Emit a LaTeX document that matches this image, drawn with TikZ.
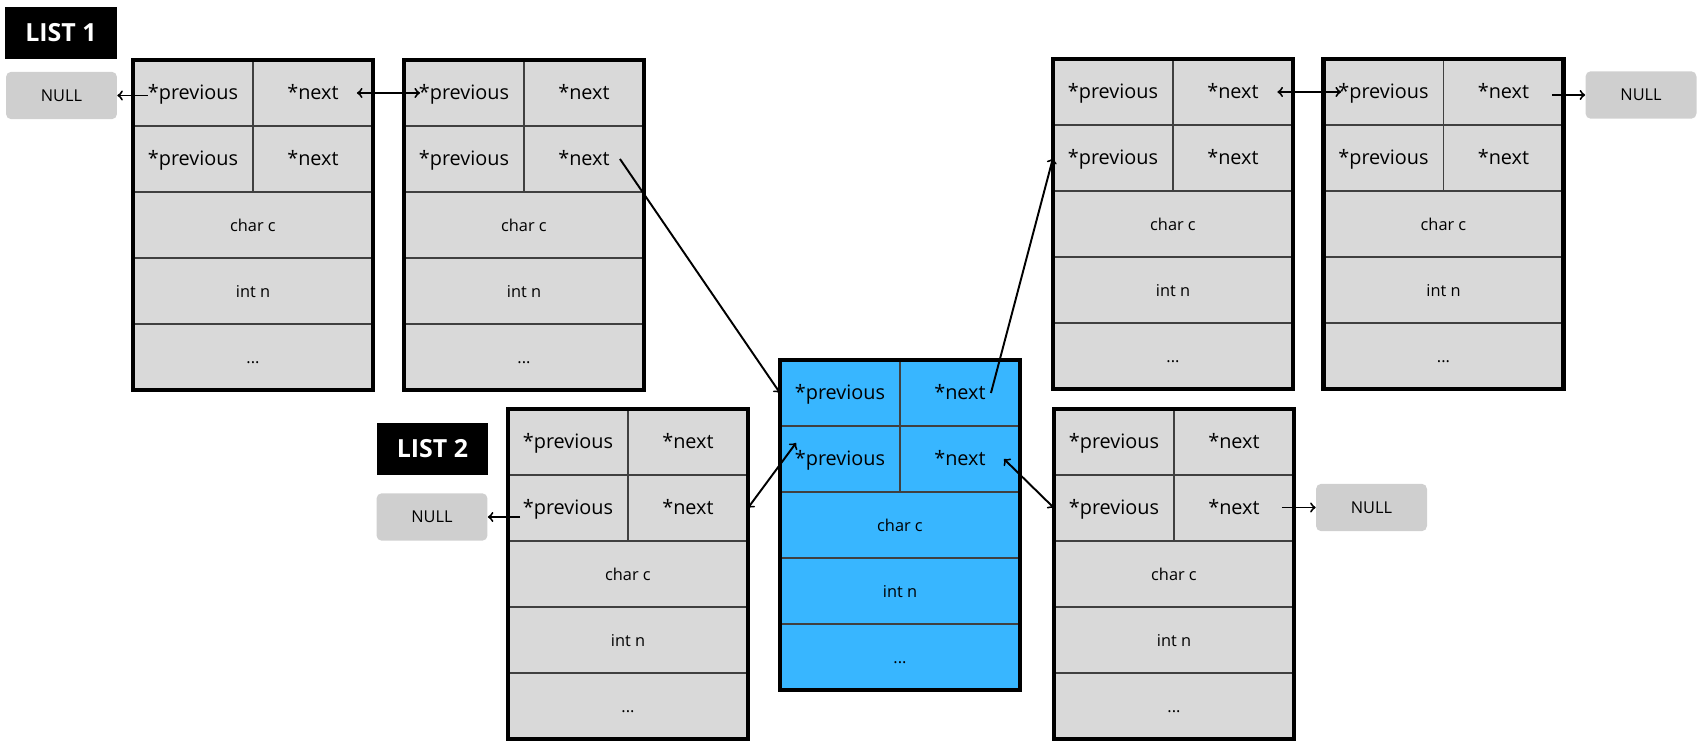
\documentclass[tikz,border=0pt]{standalone}
\usepackage{fontspec}
\setmainfont{Open Sans}
\usepackage{xcolor}
\usetikzlibrary{positioning}

\definecolor{cellgray}{HTML}{D9D9D9}
\definecolor{nullgray}{HTML}{CFCFCF}
\definecolor{nodeblue}{HTML}{38B6FF}
\definecolor{rulegray}{HTML}{404040}

\tikzset{
  half/.style={draw=rulegray, line width=1.1pt, minimum width=2.4cm, minimum height=1.32cm,
    inner sep=0pt, outer sep=0pt, text height=1.9ex, text depth=0.42ex,
    font=\fontsize{11.3}{13}\selectfont},
  full/.style={half, minimum width=4.8cm, font=\fontsize{9.3}{11}\selectfont},
  nullbox/.style={fill=nullgray, rounded corners=3pt, minimum width=2.22cm, minimum height=0.95cm,
    inner sep=0pt, font=\fontsize{9.3}{11}\selectfont},
  listbox/.style={fill=black, text=white, minimum width=2.24cm, minimum height=1.04cm,
    inner sep=0pt, font=\fontsize{14.2}{16}\selectfont\bfseries},
  arr/.style={->, line width=1.1pt},
  arr2/.style={<->, line width=1.1pt}
}

% one struct: name, top-left corner, fill colour
\newcommand{\structnode}[3]{
  \node[half, fill=#3, anchor=north west] (#1-p1) at (#2) {*previous};
  \node[half, fill=#3, right=0pt of #1-p1] (#1-n1) {*next};
  \node[half, fill=#3, below=0pt of #1-p1] (#1-p2) {*previous};
  \node[half, fill=#3, right=0pt of #1-p2] (#1-n2) {*next};
  \node[full, fill=#3, below=0pt of #1-p2.south east] (#1-c) {char c};
  \node[full, fill=#3, below=0pt of #1-c] (#1-i) {int n};
  \node[full, fill=#3, below=0pt of #1-i] (#1-d) {...};
  \draw[line width=2.7pt] (#1-p1.north west) rectangle (#1-d.south east);
}

\begin{document}
\begin{tikzpicture}[x=0.02cm, y=-0.02cm]

\useasboundingbox (0,0) rectangle (1704,753);

% List labels and NULL ends
\node[listbox] (list1) at (61,33) {LIST 1};
\node[nullbox] (null1) at (61.5,95.5) {NULL};
\node[listbox] (list2) at (432.5,449) {LIST 2};
\node[nullbox] (null2) at (432,517) {NULL};
\node[nullbox] (null3) at (1641,95) {NULL};
\node[nullbox] (null4) at (1371.5,507.5) {NULL};

% Structs of list 1
\structnode{A}{133,60}{cellgray}
\structnode{B}{404,60}{cellgray}
\structnode{E}{1053,59}{cellgray}
\structnode{F}{1323.5,59}{cellgray}

% Shared struct and list 2
\structnode{C}{780,360}{nodeblue}
\structnode{D}{508,409}{cellgray}
\structnode{G}{1054,409}{cellgray}

% Links
\draw[arr] ([xshift=0.3cm]A-p1.west |- null1.east) -- (null1.east);
\draw[arr2] ([xshift=-0.32cm]A-n1.east) -- ([xshift=0.32cm]B-p1.west);
\draw[arr] ([xshift=-0.48cm]B-n2.east) -- (C-p1.west);
\draw[arr] ([xshift=-0.58cm]C-n1.east) -- (E-p2.west);
\draw[arr2] ([xshift=-0.31cm]E-n1.east) -- ([xshift=0.35cm]F-p1.west);
\draw[arr] ([xshift=-0.23cm]F-n1.east |- null3.west) -- (null3.west);
\draw[arr] ([xshift=0.24cm]D-p2.west |- null2.east) -- (null2.east);
\draw[arr2] (D-n2.east) -- ([xshift=0.32cm, yshift=0.32cm]C-p2.west);
\draw[arr2] ([xshift=-0.32cm]C-n2.east) -- (G-p2.west);
\draw[arr] ([xshift=-0.24cm]G-n2.east |- null4.west) -- (null4.west);

\end{tikzpicture}
\end{document}
